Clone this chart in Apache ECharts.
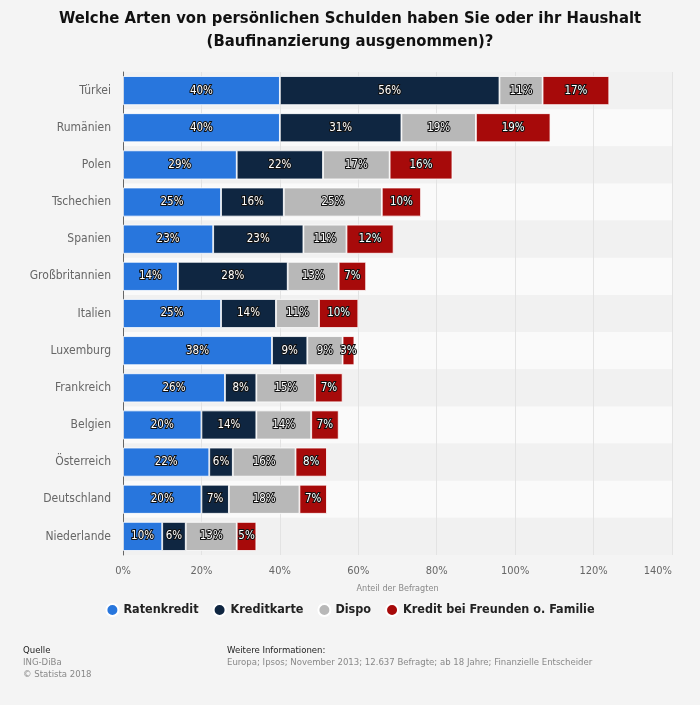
<!DOCTYPE html>
<html><head><meta charset="utf-8">
<script src="https://cdn.jsdelivr.net/npm/echarts@6/dist/echarts.min.js"></script>
<style>html,body{margin:0;padding:0;background:#f4f4f4;}#c{width:700px;height:705px;}</style>
</head><body><div id="c"></div>
<script>
const categories = ['Türkei','Rumänien','Polen','Tschechien','Spanien','Großbritannien','Italien','Luxemburg','Frankreich','Belgien','Österreich','Deutschland','Niederlande'];
const seriesNames = ['Ratenkredit','Kreditkarte','Dispo','Kredit bei Freunden o. Familie'];
const ratenkredit = [40,40,29,25,23,14,25,38,26,20,22,20,10];
const kreditkarte = [56,31,22,16,23,28,14,9,8,14,6,7,6];
const dispo = [11,19,17,25,11,13,11,9,15,14,16,18,13];
const freunde = [17,19,16,10,12,7,10,3,7,7,8,7,5];
const xTicks = [0,20,40,60,80,100,120,140];
const colors = ['#2876dd','#0f2641','#b8b8b8','#a70a0a'];
const F = "'DejaVu Sans Condensed','DejaVu Sans',sans-serif";

const chart = echarts.init(document.getElementById('c'), null, {renderer:'canvas'});
const values = [ratenkredit, kreditkarte, dispo, freunde];
chart.setOption({
  backgroundColor:'#f4f4f4',
  animation:false,
  color: colors,
  title:{
    text:'Welche Arten von persönlichen Schulden haben Sie oder ihr Haushalt\n(Baufinanzierung ausgenommen)?',
    left:'center', top:2,
    textStyle:{fontFamily:F, fontSize:16.5, fontWeight:'bold', color:'#111', lineHeight:23}
  },
  legend:{
    bottom:83, left:'center', icon:'circle', itemWidth:12, itemHeight:12, itemGap:14,
    textStyle:{fontFamily:F, fontSize:12.5, fontWeight:'bold', color:'#222'},
    data: seriesNames
  },
  grid:{left:123, right:28, top:72, bottom:150, containLabel:false},
  xAxis:{
    type:'value', min:xTicks[0], max:xTicks[xTicks.length-1], interval:20,
    name:'Anteil der Befragten', nameLocation:'middle', nameGap:29,
    nameTextStyle:{fontFamily:F, fontSize:9, color:'#888'},
    axisLabel:{fontFamily:F, fontSize:11, color:'#666', margin:11, alignMaxLabel:'right', formatter: v => v + '%'},
    axisLine:{show:false}, axisTick:{show:false},
    splitLine:{show:true, lineStyle:{color:'#e3e3e3', width:1}}
  },
  yAxis:{
    type:'category', data:categories, inverse:true,
    axisLabel:{fontFamily:F, fontSize:12, color:'#666', margin:12},
    axisLine:{show:true, lineStyle:{color:'#666', width:1}},
    axisTick:{show:false},
    splitArea:{show:true, areaStyle:{color:['#f1f1f1','#fafafa']}}
  },
  series: seriesNames.map((n,i)=>({
    name:n, type:'bar', stack:'total', barWidth:29,
    data: values[i],
    itemStyle:{color:colors[i], borderColor:'#ffffff', borderWidth:0.8},
    label:{show:true, position:'inside', formatter: p => p.value + '%',
      fontFamily:F, fontSize:11.5, color:'#fff',
      textBorderColor:'#111', textBorderWidth:2}
  }))
});
</script>
<div style="position:absolute;left:23px;top:644px;font-family:'DejaVu Sans Condensed','DejaVu Sans',sans-serif;font-size:9.5px;line-height:12px;">
<div style="color:#222">Quelle</div><div style="color:#888">ING-DiBa</div><div style="color:#888">© Statista 2018</div></div>
<div style="position:absolute;left:227px;top:644px;font-family:'DejaVu Sans Condensed','DejaVu Sans',sans-serif;font-size:9.5px;line-height:12px;">
<div style="color:#222">Weitere Informationen:</div><div style="color:#888">Europa; Ipsos; November 2013; 12.637 Befragte; ab 18 Jahre; Finanzielle Entscheider</div></div>
</body></html>
